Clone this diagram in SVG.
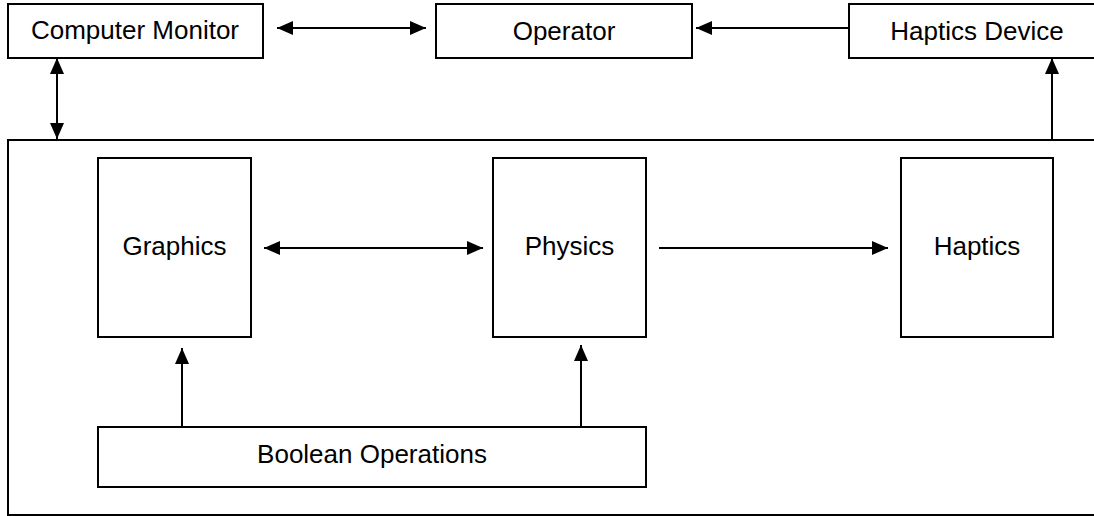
<svg xmlns="http://www.w3.org/2000/svg" width="1094" height="516" viewBox="0 0 1094 516">
<style>
.box{fill:#fff;stroke:#000;stroke-width:2}
.lbl{font-family:"Liberation Sans",Arial,sans-serif;font-size:26px;fill:#000;text-anchor:middle}
.conn{stroke:#000;stroke-width:2;fill:none}
</style>
<defs>
<marker id="ah" markerUnits="userSpaceOnUse" markerWidth="16" markerHeight="14" refX="16" refY="7" orient="auto-start-reverse">
<path d="M0,0 L16,7 L0,14 z" fill="#000"/>
</marker>
</defs>
<rect width="1094" height="516" fill="#fff"/>
<g id="system">
<rect class="box" x="8" y="140" width="1100" height="375"/>
</g>
<g id="computer-monitor">
<rect class="box" x="8" y="4" width="255" height="54"/>
<text class="lbl" x="135" y="39">Computer Monitor</text>
</g>
<g id="operator">
<rect class="box" x="436" y="4" width="256" height="54"/>
<text class="lbl" x="564" y="40">Operator</text>
</g>
<g id="haptics-device">
<rect class="box" x="849" y="4" width="257" height="54"/>
<text class="lbl" x="977" y="40">Haptics Device</text>
</g>
<g id="graphics">
<rect class="box" x="98" y="158" width="153" height="179"/>
<text class="lbl" x="174.5" y="255">Graphics</text>
</g>
<g id="physics">
<rect class="box" x="493" y="158" width="153" height="179"/>
<text class="lbl" x="569.5" y="255">Physics</text>
</g>
<g id="haptics">
<rect class="box" x="901" y="158" width="152" height="179"/>
<text class="lbl" x="977" y="255">Haptics</text>
</g>
<g id="boolean-operations">
<rect class="box" x="98" y="427" width="548" height="60"/>
<text class="lbl" x="372" y="463">Boolean Operations</text>
</g>
<g id="connectors">
<line class="conn" x1="277" y1="28" x2="426" y2="28" marker-start="url(#ah)" marker-end="url(#ah)"/>
<line class="conn" x1="849" y1="28" x2="696" y2="28" marker-end="url(#ah)"/>
<line class="conn" x1="57" y1="58" x2="57" y2="139" marker-start="url(#ah)" marker-end="url(#ah)"/>
<line class="conn" x1="1052" y1="140" x2="1052" y2="58" marker-end="url(#ah)"/>
<line class="conn" x1="264" y1="248" x2="483" y2="248" marker-start="url(#ah)" marker-end="url(#ah)"/>
<line class="conn" x1="659" y1="248" x2="888" y2="248" marker-end="url(#ah)"/>
<line class="conn" x1="182" y1="427" x2="182" y2="348" marker-end="url(#ah)"/>
<line class="conn" x1="581" y1="427" x2="581" y2="345" marker-end="url(#ah)"/>
</g>
</svg>
